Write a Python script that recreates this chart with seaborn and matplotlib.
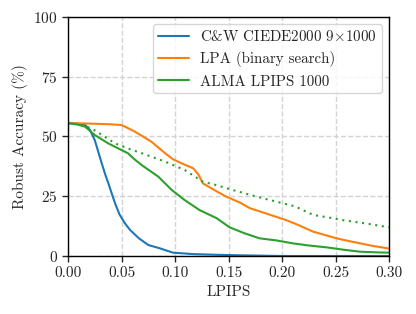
import numpy as np
import pandas as pd
import seaborn as sns
import matplotlib
matplotlib.use("Agg")
import matplotlib.pyplot as plt

# curve points (LPIPS, robust accuracy %)
cw_x = [0.0, 0.010, 0.016, 0.0206, 0.025, 0.028, 0.0315, 0.0345, 0.0377, 0.041, 0.044, 0.048,
        0.053, 0.058, 0.066, 0.075, 0.086, 0.098, 0.117, 0.140, 0.160, 0.200, 0.300]
cw_y = [55.6, 55.3, 54.8, 52.7, 48.5, 44.0, 38.8, 34.5, 30.4, 26.0, 22.0, 17.5,
        13.8, 10.9, 7.5, 4.6, 3.2, 1.4, 0.8, 0.5, 0.3, 0.0, 0.0]

lpa_x = [0.0, 0.020, 0.040, 0.050, 0.056, 0.0626, 0.070, 0.078, 0.0907, 0.098, 0.106, 0.117,
         0.122, 0.126, 0.136, 0.148, 0.160, 0.170, 0.185, 0.204, 0.215, 0.229, 0.240, 0.251,
         0.262, 0.273, 0.285, 0.299, 0.300]
lpa_y = [55.6, 55.4, 55.1, 54.8, 53.5, 52.0, 50.0, 47.8, 43.0, 40.5, 38.8, 36.7,
         34.0, 30.4, 27.8, 24.8, 22.5, 20.0, 17.8, 15.0, 13.0, 10.2, 8.8, 7.4,
         6.3, 5.3, 4.2, 3.2, 3.1]

alma_x = [0.0, 0.008, 0.016, 0.025, 0.0377, 0.047, 0.056, 0.062, 0.069, 0.0844, 0.097, 0.109,
          0.123, 0.139, 0.151, 0.165, 0.179, 0.195, 0.210, 0.225, 0.242, 0.258, 0.273, 0.290, 0.300]
alma_y = [55.6, 55.1, 54.1, 50.6, 47.1, 45.0, 43.0, 40.5, 38.0, 33.2, 27.6, 23.4,
          19.2, 15.8, 12.0, 9.5, 7.4, 6.5, 5.3, 4.4, 3.6, 2.6, 1.8, 1.5, 1.4]

alma_dot_x = [0.0, 0.012, 0.022, 0.033, 0.044, 0.056, 0.069, 0.0907, 0.109, 0.126, 0.140,
              0.154, 0.175, 0.195, 0.212, 0.229, 0.245, 0.257, 0.280, 0.300]
alma_dot_y = [55.6, 54.9, 53.4, 50.3, 47.1, 45.0, 43.0, 39.5, 36.0, 31.1, 29.5,
              27.6, 25.0, 22.7, 20.8, 17.2, 16.0, 15.0, 13.5, 12.0]

sns.set_style("ticks")
plt.rcParams["font.family"] = ["cmr10", "DejaVu Serif"]
plt.rcParams["mathtext.fontset"] = "cm"
plt.rcParams["axes.formatter.use_mathtext"] = True

fig = plt.figure(figsize=(4.16, 3.14), dpi=100)
ax = fig.add_axes([0.1635, 0.1847, 0.7716, 0.7612])

sns.lineplot(x=cw_x, y=cw_y, ax=ax, color="#1f77b4", lw=1.5,
             label="C&W CIEDE2000 9$\\times$1000")
sns.lineplot(x=lpa_x, y=lpa_y, ax=ax, color="#ff7f0e", lw=1.5,
             label="LPA (binary search)")
sns.lineplot(x=alma_x, y=alma_y, ax=ax, color="#2ca02c", lw=1.5,
             label="ALMA LPIPS 1000")
sns.lineplot(x=alma_dot_x, y=alma_dot_y, ax=ax, color="#2ca02c", lw=1.5,
             ls=(0, (1, 2.2)))

ax.set_xlim(0, 0.30)
ax.set_ylim(0, 100)
ax.set_xticks([0, 0.05, 0.10, 0.15, 0.20, 0.25, 0.30])
ax.set_xticklabels(["0.00", "0.05", "0.10", "0.15", "0.20", "0.25", "0.30"])
ax.set_yticks([0, 25, 50, 75, 100])
ax.tick_params(labelsize=11, length=4, width=1)
ax.grid(True, ls="--", color="#d3d3d3", lw=1)
for s in ax.spines.values():
    s.set_visible(True)
    s.set_linewidth(1)
    s.set_color("black")
ax.set_xlabel("LPIPS", fontsize=11)
ax.set_ylabel("Robust Accuracy (%)", fontsize=11)
ax.legend(loc="upper right", fontsize=10.8, framealpha=0.8, borderpad=0.3,
          handlelength=2.1, handletextpad=0.75, borderaxespad=0.5)

fig.savefig("out.png", dpi=100)
